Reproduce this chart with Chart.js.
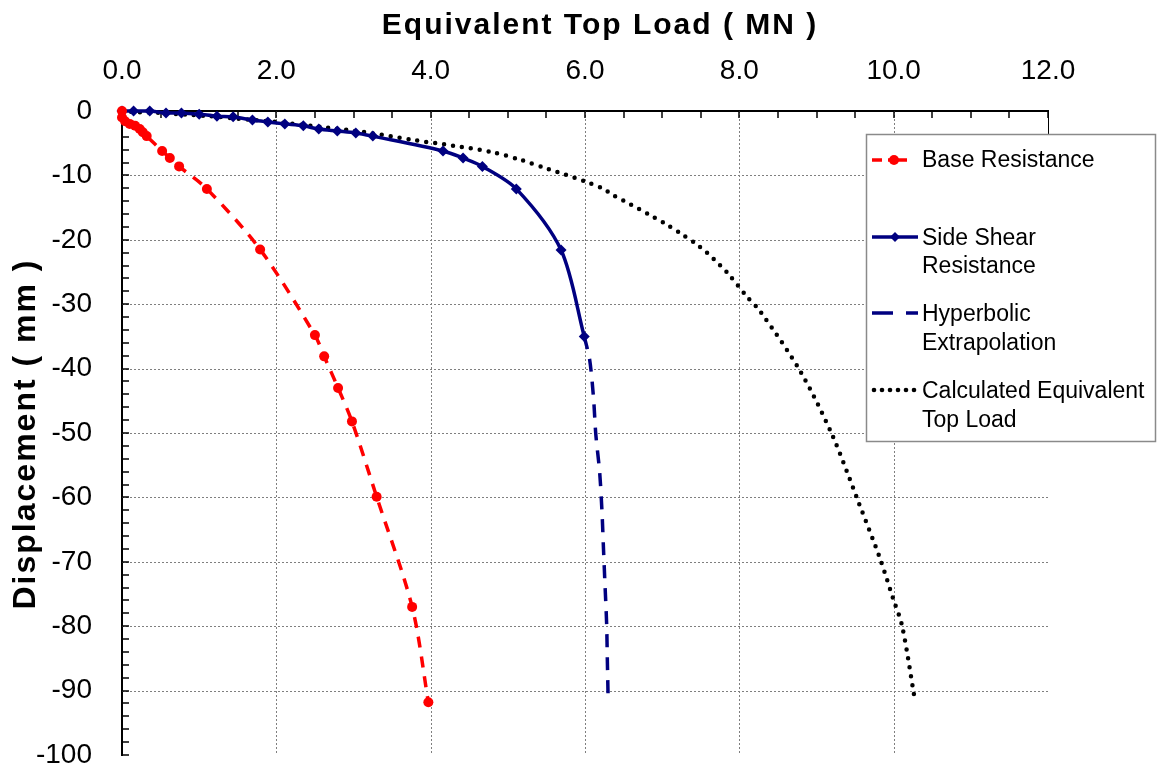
<!DOCTYPE html>
<html>
<head>
<meta charset="utf-8">
<script src="https://cdn.jsdelivr.net/npm/chart.js@4.4.1/dist/chart.umd.min.js"></script>
<style>
  html, body { margin: 0; padding: 0; background: #fff; }
  #wrap { width: 1157px; height: 770px; }
</style>
</head>
<body>
<div id="wrap"><canvas id="load-chart" width="1157" height="770"></canvas></div>
<script>
// values: load in MN, displacement in mm
const baseLoad = [0, 0, 0.04, 0.10, 0.17, 0.23, 0.27, 0.32, 0.52, 0.62, 0.74, 1.10, 1.79, 2.50, 2.62, 2.80, 2.98, 3.30, 3.76, 3.97];
const baseDisp = [0, -1.0, -1.6, -2.0, -2.3, -2.8, -3.3, -3.9, -6.2, -7.3, -8.6, -12.1, -21.5, -34.8, -38.1, -43.0, -48.2, -59.9, -77.0, -91.8];

const sideLoad = [0, 0.15, 0.36, 0.57, 0.77, 1.00, 1.23, 1.44, 1.69, 1.89, 2.11, 2.35, 2.55, 2.79, 3.03, 3.25, 4.16, 4.42, 4.67, 5.11, 5.69, 5.99];
const sideDisp = [0, 0, 0, -0.3, -0.3, -0.5, -0.8, -0.9, -1.4, -1.7, -2.0, -2.3, -2.8, -3.1, -3.4, -3.9, -6.2, -7.3, -8.6, -12.1, -21.6, -35.0];

const hypLoad = [5.99, 6.06, 6.11, 6.14, 6.19, 6.22, 6.24, 6.26, 6.28, 6.29, 6.30];
const hypDisp = [-35.0, -38.6, -44.5, -50.2, -56.1, -62.2, -68.1, -73.8, -79.5, -85.5, -91.4];

const calcLoad = [0, 0.23, 0.49, 0.88, 1.14, 1.50, 2.0, 2.6, 3.15, 3.77, 4.3, 4.8, 5.17, 5.52, 6.02, 6.24, 6.37, 6.59, 6.82, 7.04, 7.25, 7.47, 7.67, 7.85, 8.09, 8.27, 8.79, 9.20, 9.54, 9.82, 9.99, 10.11, 10.27];
const calcDisp = [0, -0.2, -0.3, -0.6, -0.8, -1.2, -1.7, -2.5, -3.3, -4.5, -5.4, -6.4, -7.6, -9.0, -11.0, -12.1, -13.1, -14.5, -16.0, -17.5, -19.1, -20.9, -23.0, -25.2, -28.7, -31.1, -40.4, -50.2, -60.6, -69.4, -75.6, -80.0, -91.1];

const seriesNames = ['Base Resistance', 'Side Shear Resistance', 'Hyperbolic Extrapolation', 'Calculated Equivalent Top Load'];
const xTitle = 'Equivalent Top Load ( MN )';
const yTitle = 'Displacement ( mm )';

const FONT = 'Arial, "Liberation Sans", sans-serif';
const NAVY = '#000080';

function toPoints(xs, ys) {
  return xs.map((x, i) => ({ x: x, y: ys[i] }));
}

// dotted grid, inward ticks, axis titles and the boxed legend
const framePlugin = {
  id: 'frame',
  beforeDatasetsDraw(chart) {
    const ctx = chart.ctx;
    const a = chart.chartArea;
    const xs = chart.scales.x, ys = chart.scales.y;
    ctx.save();
    ctx.strokeStyle = '#7f7f7f';
    ctx.lineWidth = 1;
    ctx.setLineDash([2, 2]);
    for (let v = 2; v <= 10; v += 2) {
      const px = Math.round(xs.getPixelForValue(v)) + 0.5;
      ctx.beginPath(); ctx.moveTo(px, a.top); ctx.lineTo(px, a.bottom); ctx.stroke();
    }
    for (let v = -10; v >= -90; v -= 10) {
      const py = Math.round(ys.getPixelForValue(v)) + 0.5;
      ctx.beginPath(); ctx.moveTo(a.left, py); ctx.lineTo(a.right, py); ctx.stroke();
    }
    ctx.setLineDash([]);
    ctx.strokeStyle = '#000';
    ctx.lineWidth = 1.5;
    for (let v = 0.5; v <= 12; v += 0.5) {
      const px = Math.round(xs.getPixelForValue(v));
      ctx.beginPath(); ctx.moveTo(px, a.top); ctx.lineTo(px, a.top + 7); ctx.stroke();
    }
    for (let v = -2; v >= -100; v -= 2) {
      const py = Math.round(ys.getPixelForValue(v));
      ctx.beginPath(); ctx.moveTo(a.left, py); ctx.lineTo(a.left + 7, py); ctx.stroke();
    }
    // short right frame piece above the legend
    ctx.lineWidth = 1;
    ctx.beginPath(); ctx.moveTo(a.right + 0.5, a.top); ctx.lineTo(a.right + 0.5, 135); ctx.stroke();
    ctx.restore();
  },
  afterDraw(chart) {
    const ctx = chart.ctx;
    ctx.save();
    ctx.fillStyle = '#000';
    ctx.letterSpacing = '2px';
    ctx.font = 'bold 30px ' + FONT;
    ctx.textAlign = 'center';
    ctx.textBaseline = 'alphabetic';
    ctx.fillText(xTitle, 600, 34);
    ctx.translate(35, 434);
    ctx.rotate(-Math.PI / 2);
    ctx.font = 'bold 32px ' + FONT;
    ctx.fillText(yTitle, 0, 0);
    ctx.restore();

    drawLegend(ctx);
  }
};

function drawLegend(ctx) {
  ctx.save();
  ctx.fillStyle = '#fff';
  ctx.fillRect(866.5, 134.5, 289, 307);
  ctx.strokeStyle = '#8a8a8a';
  ctx.lineWidth = 1.5;
  ctx.strokeRect(866.5, 134.5, 289, 307);

  // text
  ctx.fillStyle = '#000';
  ctx.font = '23px ' + FONT;
  ctx.textAlign = 'left';
  ctx.textBaseline = 'alphabetic';
  ctx.fillText(seriesNames[0], 922, 167);
  ctx.fillText('Side Shear', 922, 245);
  ctx.fillText('Resistance', 922, 273);
  ctx.fillText('Hyperbolic', 922, 321);
  ctx.fillText('Extrapolation', 922, 350);
  ctx.fillText('Calculated Equivalent', 922, 398);
  ctx.fillText('Top Load', 922, 427);

  // base resistance sample
  ctx.lineWidth = 3.5;
  ctx.strokeStyle = 'red';
  ctx.beginPath();
  ctx.moveTo(872, 160); ctx.lineTo(882, 160);
  ctx.moveTo(888, 160); ctx.lineTo(907, 160);
  ctx.stroke();
  ctx.fillStyle = 'red';
  ctx.beginPath(); ctx.arc(894, 160, 5, 0, Math.PI * 2); ctx.fill();

  // side shear sample
  ctx.strokeStyle = NAVY;
  ctx.fillStyle = NAVY;
  ctx.beginPath(); ctx.moveTo(872, 237); ctx.lineTo(918, 237); ctx.stroke();
  ctx.beginPath();
  ctx.moveTo(895, 232); ctx.lineTo(900, 237); ctx.lineTo(895, 242); ctx.lineTo(890, 237);
  ctx.closePath(); ctx.fill();

  // hyperbolic sample
  ctx.beginPath();
  ctx.moveTo(872, 313); ctx.lineTo(893, 313);
  ctx.moveTo(906, 313); ctx.lineTo(918, 313);
  ctx.stroke();

  // calculated sample
  ctx.fillStyle = '#000';
  for (let x = 874; x <= 915; x += 8) {
    ctx.beginPath(); ctx.arc(x, 390, 2.3, 0, Math.PI * 2); ctx.fill();
  }
  ctx.restore();
}

const ctx = document.getElementById('load-chart').getContext('2d');

new Chart(ctx, {
  type: 'scatter',
  data: {
    datasets: [
      {
        label: seriesNames[0],
        data: toPoints(baseLoad, baseDisp),
        showLine: true,
        borderColor: 'red',
        backgroundColor: 'red',
        borderWidth: 3.5,
        borderDash: [11, 9],
        tension: 0.3,
        pointRadius: 5,
        pointBorderWidth: 0,
        clip: false
      },
      {
        label: seriesNames[1],
        data: toPoints(sideLoad, sideDisp),
        showLine: true,
        borderColor: NAVY,
        backgroundColor: NAVY,
        borderWidth: 3.5,
        tension: 0.3,
        pointStyle: 'rectRot',
        pointRadius: 5.5,
        pointBorderWidth: 0,
        clip: false
      },
      {
        label: seriesNames[2],
        data: toPoints(hypLoad, hypDisp),
        showLine: true,
        borderColor: NAVY,
        borderWidth: 3.5,
        borderDash: [13, 10],
        tension: 0.3,
        pointRadius: 0,
        clip: false
      },
      {
        label: seriesNames[3],
        data: toPoints(calcLoad, calcDisp),
        showLine: true,
        borderColor: '#000',
        borderWidth: 4.5,
        borderDash: [0, 9],
        borderCapStyle: 'round',
        tension: 0.3,
        pointRadius: 0,
        clip: false
      }
    ]
  },
  options: {
    responsive: false,
    animation: false,
    layout: { padding: { top: 0, left: 0, right: 109, bottom: 15 } },
    plugins: {
      legend: { display: false },
      tooltip: { enabled: false }
    },
    scales: {
      x: {
        type: 'linear',
        position: 'top',
        min: 0,
        max: 12,
        grid: { display: false, drawTicks: false },
        border: { display: true, color: '#000', width: 2 },
        ticks: {
          stepSize: 2,
          autoSkip: false,
          maxRotation: 0,
          padding: 23,
          color: '#000',
          font: { family: FONT, size: 28 },
          callback: (v) => Number(v).toFixed(1)
        },
        afterFit: (scale) => {
          scale.height = 111;
          scale.paddingLeft = 0;
          scale.paddingRight = 0;
        }
      },
      y: {
        type: 'linear',
        min: -100,
        max: 0,
        grid: { display: false, drawTicks: false },
        border: { display: true, color: '#000', width: 2 },
        ticks: {
          stepSize: 10,
          autoSkip: false,
          padding: 30,
          color: '#000',
          font: { family: FONT, size: 28 }
        },
        afterFit: (scale) => {
          scale.width = 122;
          scale.paddingTop = 0;
          scale.paddingBottom = 0;
        }
      }
    }
  },
  plugins: [framePlugin]
});
</script>
</body>
</html>
